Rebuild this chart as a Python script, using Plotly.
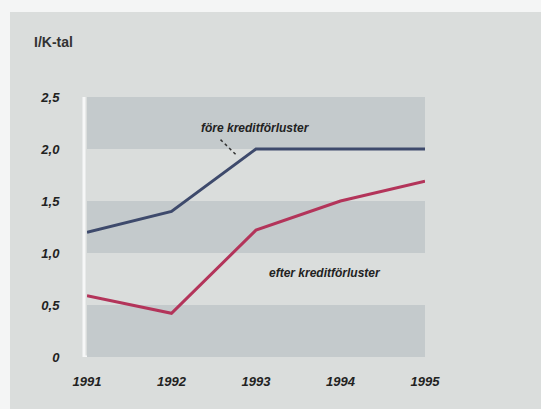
import plotly.graph_objects as go

# I/K-tal, före och efter kreditförluster
years = [1991, 1992, 1993, 1994, 1995]
fore_kredit = [1.2, 1.4, 2.0, 2.0, 2.0]
efter_kredit = [0.59, 0.42, 1.22, 1.5, 1.69]

y_ticks = [0, 0.5, 1.0, 1.5, 2.0, 2.5]
y_ticktext = ["0", "0,5", "1,0", "1,5", "2,0", "2,5"]
x_ticktext = ["1991", "1992", "1993", "1994", "1995"]

# shaded bands behind the lines
bands = [(0, 0.5), (1.0, 1.5), (2.0, 2.5)]

W, H = 541, 409
L, R, T, B = 87, 116, 97, 52
pw, ph = W - L - R, H - T - B


def px_x(p):
    return (p - L) / pw


def px_y(p):
    return (H - B - p) / ph


fig = go.Figure()

fig.add_trace(go.Scatter(
    x=years, y=fore_kredit, mode="lines",
    line=dict(color="#3e4a6c", width=3), hoverinfo="skip", showlegend=False,
))
fig.add_trace(go.Scatter(
    x=years, y=efter_kredit, mode="lines",
    line=dict(color="#b3345a", width=3), hoverinfo="skip", showlegend=False,
))

shapes = [
    # panel behind the whole chart
    dict(type="rect", xref="paper", yref="paper",
         x0=px_x(10), x1=px_x(W + 5), y0=px_y(H + 5), y1=px_y(12),
         fillcolor="#dadddc", line=dict(width=0), layer="below"),
]
for lo, hi in bands:
    shapes.append(dict(type="rect", xref="x", yref="y",
                       x0=1991, x1=1995, y0=lo, y1=hi,
                       fillcolor="#c4cacc", line=dict(width=0), layer="below"))
# white frame on the left and along zero
shapes.append(dict(type="line", xref="paper", yref="paper",
                   x0=px_x(84), x1=px_x(84), y0=0, y1=1,
                   line=dict(color="#f6f7f7", width=3), layer="below"))
shapes.append(dict(type="line", xref="paper", yref="y",
                   x0=px_x(84), x1=1, y0=0, y1=0,
                   line=dict(color="#f6f7f7", width=3), layer="below"))
# leader from label to the upper line
shapes.append(dict(type="line", xref="x", yref="y",
                   x0=1992.58, y0=2.09, x1=1992.77, y1=1.94,
                   line=dict(color="#333", width=1.5, dash="dot")))

fig.update_layout(
    width=W, height=H,
    margin=dict(l=L, r=R, t=T, b=B, pad=0),
    paper_bgcolor="#f4f5f5",
    plot_bgcolor="rgba(0,0,0,0)",
    font=dict(family="Liberation Sans, Arial, sans-serif", color="#222"),
    shapes=shapes,
    xaxis=dict(
        range=[1991, 1995], tickvals=years,
        ticktext=[f"<b><i>{t}</i></b>" for t in x_ticktext],
        tickfont=dict(size=13, color="#222"),
        showgrid=False, zeroline=False, showline=False,
        ticks="outside", ticklen=12, tickcolor="rgba(0,0,0,0)",
    ),
    yaxis=dict(
        range=[0, 2.5], tickvals=y_ticks,
        ticktext=[f"<b><i>{t}</i></b>" for t in y_ticktext],
        tickfont=dict(size=13, color="#222"),
        showgrid=False, zeroline=False, showline=False,
        ticks="outside", ticklen=24, tickcolor="rgba(0,0,0,0)",
    ),
    annotations=[
        dict(xref="paper", yref="paper", x=px_x(32), y=px_y(42),
             xanchor="left", yanchor="middle", showarrow=False,
             text="<b>I/K-tal</b>", font=dict(size=14, color="#333")),
        dict(xref="x", yref="y", x=1992.99, y=2.2, showarrow=False,
             text="<b><i>före kreditförluster</i></b>",
             font=dict(size=12, color="#222")),
        dict(xref="x", yref="y", x=1993.82, y=0.81, showarrow=False,
             text="<b><i>efter kreditförluster</i></b>",
             font=dict(size=12, color="#222")),
    ],
)

fig.write_html("out.html")
